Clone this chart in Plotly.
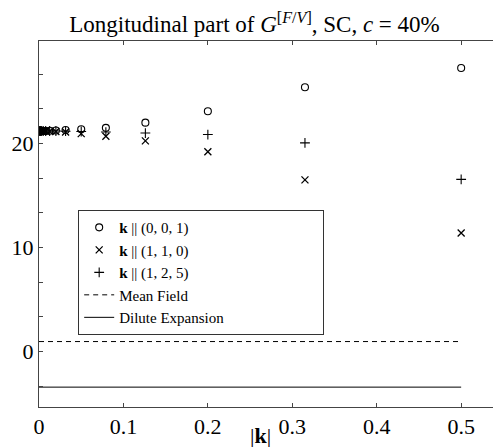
import plotly.graph_objects as go

# |k| values (log spaced)
k_vals = [0.5, 0.315, 0.2, 0.126, 0.0792, 0.05, 0.0315, 0.02, 0.0126,
          0.0079, 0.005, 0.00315, 0.002, 0.00126, 0.00079]

g_001 = [27.25, 25.4, 23.1, 22.0, 21.5, 21.37, 21.3, 21.25, 21.22,
         21.2, 21.2, 21.2, 21.2, 21.2, 21.2]
g_110 = [11.4, 16.5, 19.2, 20.25, 20.7, 20.95, 21.1, 21.15, 21.18,
         21.2, 21.2, 21.2, 21.2, 21.2, 21.2]
g_125 = [16.55, 20.06, 20.86, 21.0, 21.1, 21.15, 21.18, 21.2, 21.2,
         21.2, 21.2, 21.2, 21.2, 21.2, 21.2]

line_k = [0, 0.5]
mean_field = [0.96, 0.96]
dilute_exp = [-3.42, -3.42]

x_ticks = [0, 0.1, 0.2, 0.3, 0.4, 0.5]
x_tick_text = ["0", "0.1", "0.2", "0.3", "0.4", "0.5"]
y_ticks = [-10 / 3, 0, 10 / 3, 20 / 3, 10, 40 / 3, 50 / 3, 20, 70 / 3, 80 / 3, 30]
y_tick_text = ["", "0", "", "", "10", "", "", "20", "", "", ""]

SERIF = "Liberation Serif"
PAD = "\u00a0" * 25  # widens the legend box like the original

fig = go.Figure()

fig.add_trace(go.Scatter(
    x=k_vals, y=g_001, mode="markers", name="<b>k</b> || (0, 0, 1)",
    marker=dict(symbol="circle-open", size=7, color="black", line=dict(width=1.1))
))
fig.add_trace(go.Scatter(
    x=k_vals, y=g_110, mode="markers", name="<b>k</b> || (1, 1, 0)",
    marker=dict(symbol="x-thin", size=7, color="black", line=dict(width=1.3, color="black"))
))
fig.add_trace(go.Scatter(
    x=k_vals, y=g_125, mode="markers", name="<b>k</b> || (1, 2, 5)",
    marker=dict(symbol="cross-thin", size=7, color="black", line=dict(width=1.1, color="black"))
))
fig.add_trace(go.Scatter(
    x=line_k, y=mean_field, mode="lines", name="Mean Field",
    line=dict(color="black", width=1, dash="5px,4px")
))
fig.add_trace(go.Scatter(
    x=line_k, y=dilute_exp, mode="lines", name="Dilute Expansion" + PAD,
    line=dict(color="black", width=1)
))

fig.update_xaxes(
    range=[0, 0.546], tickvals=x_ticks, ticktext=x_tick_text,
    ticks="inside", ticklen=4, tickcolor="#444", mirror="ticks",
    showline=True, linecolor="#444", linewidth=1, showgrid=False, zeroline=False,
    tickfont=dict(family=SERIF, size=22, color="black"), automargin=False
)
fig.update_yaxes(
    range=[-5.33, 29.85], tickvals=y_ticks, ticktext=y_tick_text,
    ticks="inside", ticklen=4, tickcolor="#444", mirror="ticks",
    showline=True, linecolor="#444", linewidth=1, showgrid=False, zeroline=False,
    tickfont=dict(family=SERIF, size=22, color="black"), automargin=False
)

# x-axis label sits low, between the 0.2 and 0.3 tick labels
fig.add_annotation(
    text="|<b>k</b>|", xref="paper", yref="paper", x=0.48, y=-0.077,
    xanchor="center", yanchor="middle", showarrow=False,
    font=dict(family=SERIF, size=22, color="black")
)

# page body has an 8px margin, so the figure is sized to fit what is left
fig.update_layout(
    width=493, height=439,
    margin=dict(l=31, r=1, t=33, b=40, autoexpand=False),
    plot_bgcolor="white", paper_bgcolor="white",
    font=dict(family=SERIF, color="black"),
    title=dict(
        text="Longitudinal part of <i>G</i><sup>[<i>F</i>/<i>V</i>]</sup>, SC, <i>c</i> = 40%",
        x=0.5, xanchor="center", y=0.963, yanchor="middle",
        font=dict(family=SERIF, size=23, color="black")
    ),
    legend=dict(
        x=0.085, y=0.538, xanchor="left", yanchor="top",
        bordercolor="#333", borderwidth=1, bgcolor="white",
        font=dict(family=SERIF, size=15, color="black"),
        tracegroupgap=0, itemwidth=30
    ),
    showlegend=True
)

fig.write_html("out.html")
